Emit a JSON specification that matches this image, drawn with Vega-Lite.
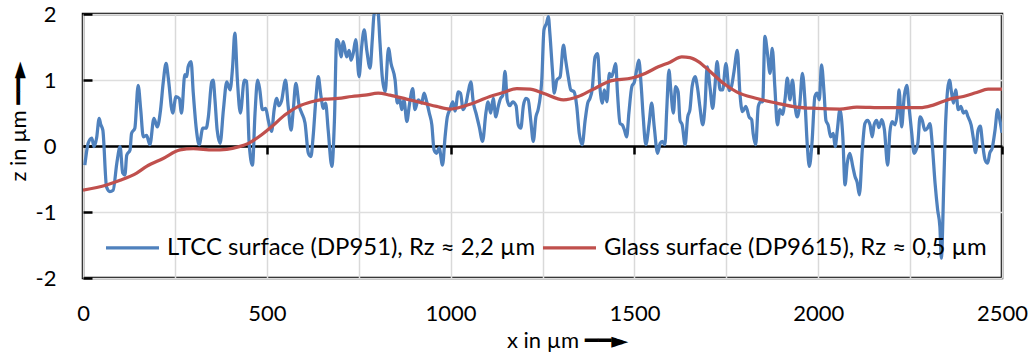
{
  "$schema": "https://vega.github.io/schema/vega-lite/v6.json",
  "width": 919,
  "height": 264,
  "autosize": "none",
  "padding": {"left": 83, "top": 14, "right": 30, "bottom": 82},
  "config": {
    "view": {"stroke": "black", "strokeWidth": 2.5},
    "font": "Lato",
    "axis": {"labelColor": "black", "titleColor": "black", "titleFontWeight": "normal", "labelFont": "Lato", "titleFont": "Lato, DejaVu Sans", "labelFlush": false}
  },
  "datasets": {
    "ltcc": [
      {"x":5,"z":-0.29},{"x":14,"z":0.04},{"x":24,"z":0.12},{"x":30,"z":-0.01},{"x":37,"z":0.12},{"x":44,"z":0.42},{"x":48,"z":0.33},{"x":54,"z":0.24},{"x":64,"z":-0.62},{"x":73,"z":-0.69},{"x":82,"z":-0.67},{"x":92,"z":-0.26},{"x":101,"z":-0.01},{"x":108,"z":-0.41},{"x":114,"z":-0.44},{"x":119,"z":-0.14},{"x":128,"z":-0.06},{"x":132,"z":0.19},{"x":141,"z":0.27},{"x":150,"z":0.92},{"x":157,"z":0.55},{"x":164,"z":0.14},{"x":173,"z":0.16},{"x":182,"z":0.02},{"x":193,"z":0.42},{"x":202,"z":0.29},{"x":211,"z":0.55},{"x":218,"z":0.95},{"x":226,"z":1.25},{"x":232,"z":1.03},{"x":244,"z":0.5},{"x":253,"z":0.75},{"x":262,"z":0.72},{"x":268,"z":0.5},{"x":277,"z":1.08},{"x":282,"z":1.05},{"x":286,"z":1.2},{"x":294,"z":1.28},{"x":300,"z":0.8},{"x":309,"z":0.22},{"x":316,"z":0.02},{"x":326,"z":0.27},{"x":335,"z":0.27},{"x":341,"z":0.44},{"x":350,"z":0.97},{"x":354,"z":1.0},{"x":359,"z":0.7},{"x":365,"z":0.24},{"x":373,"z":0.04},{"x":382,"z":0.55},{"x":391,"z":0.97},{"x":400,"z":0.85},{"x":407,"z":1.2},{"x":413,"z":1.71},{"x":420,"z":1.0},{"x":428,"z":0.5},{"x":439,"z":1.0},{"x":445,"z":0.98},{"x":452,"z":0.04},{"x":461,"z":-0.29},{"x":468,"z":0.5},{"x":475,"z":1.0},{"x":481,"z":0.85},{"x":488,"z":0.55},{"x":497,"z":0.57},{"x":504,"z":0.39},{"x":513,"z":0.22},{"x":520,"z":0.55},{"x":527,"z":0.72},{"x":533,"z":0.61},{"x":540,"z":0.68},{"x":551,"z":1.0},{"x":558,"z":0.61},{"x":566,"z":0.24},{"x":572,"z":0.55},{"x":579,"z":0.95},{"x":588,"z":0.61},{"x":595,"z":0.5},{"x":604,"z":0.35},{"x":613,"z":-0.11},{"x":620,"z":-0.16},{"x":626,"z":0.14},{"x":634,"z":0.75},{"x":640,"z":1.05},{"x":647,"z":0.77},{"x":654,"z":0.57},{"x":660,"z":0.65},{"x":667,"z":0.24},{"x":677,"z":-0.31},{"x":684,"z":0.39},{"x":690,"z":1.61},{"x":696,"z":1.56},{"x":702,"z":1.35},{"x":708,"z":1.58},{"x":717,"z":1.35},{"x":724,"z":1.45},{"x":729,"z":1.3},{"x":735,"z":1.4},{"x":742,"z":1.61},{"x":751,"z":1.05},{"x":758,"z":1.5},{"x":765,"z":1.76},{"x":772,"z":1.45},{"x":781,"z":1.18},{"x":787,"z":1.61},{"x":792,"z":2.0},{"x":802,"z":2.05},{"x":808,"z":1.56},{"x":814,"z":1.05},{"x":822,"z":0.82},{"x":831,"z":1.48},{"x":838,"z":1.25},{"x":849,"z":1.0},{"x":855,"z":0.65},{"x":861,"z":0.72},{"x":867,"z":0.55},{"x":873,"z":0.7},{"x":881,"z":0.37},{"x":888,"z":0.63},{"x":897,"z":0.87},{"x":903,"z":0.55},{"x":912,"z":0.7},{"x":921,"z":0.65},{"x":928,"z":0.8},{"x":935,"z":0.67},{"x":942,"z":0.5},{"x":949,"z":0.32},{"x":955,"z":-0.06},{"x":962,"z":-0.11},{"x":969,"z":-0.03},{"x":978,"z":-0.29},{"x":985,"z":0.14},{"x":991,"z":0.44},{"x":998,"z":0.55},{"x":1006,"z":0.67},{"x":1012,"z":0.53},{"x":1021,"z":0.82},{"x":1027,"z":0.8},{"x":1034,"z":0.55},{"x":1042,"z":0.65},{"x":1048,"z":0.82},{"x":1055,"z":0.97},{"x":1062,"z":0.65},{"x":1069,"z":0.5},{"x":1078,"z":0.29},{"x":1087,"z":0.07},{"x":1096,"z":0.5},{"x":1102,"z":0.67},{"x":1109,"z":0.5},{"x":1116,"z":0.72},{"x":1123,"z":0.44},{"x":1130,"z":0.61},{"x":1136,"z":0.72},{"x":1142,"z":0.77},{"x":1148,"z":1.13},{"x":1154,"z":0.7},{"x":1161,"z":0.61},{"x":1169,"z":0.67},{"x":1178,"z":0.61},{"x":1184,"z":0.32},{"x":1191,"z":0.27},{"x":1198,"z":0.61},{"x":1205,"z":0.72},{"x":1211,"z":0.7},{"x":1218,"z":0.39},{"x":1225,"z":0.07},{"x":1232,"z":0.44},{"x":1238,"z":0.55},{"x":1248,"z":1.0},{"x":1254,"z":1.76},{"x":1261,"z":1.86},{"x":1266,"z":1.96},{"x":1270,"z":1.71},{"x":1277,"z":1.15},{"x":1282,"z":0.8},{"x":1289,"z":1.0},{"x":1298,"z":1.05},{"x":1307,"z":1.53},{"x":1313,"z":1.3},{"x":1320,"z":1.05},{"x":1327,"z":0.85},{"x":1336,"z":0.82},{"x":1343,"z":0.61},{"x":1350,"z":0.19},{"x":1358,"z":0.02},{"x":1366,"z":0.39},{"x":1373,"z":0.65},{"x":1379,"z":0.72},{"x":1385,"z":0.85},{"x":1393,"z":1.35},{"x":1400,"z":1.4},{"x":1406,"z":0.9},{"x":1413,"z":0.65},{"x":1418,"z":0.85},{"x":1425,"z":0.67},{"x":1432,"z":1.1},{"x":1438,"z":1.05},{"x":1443,"z":1.13},{"x":1449,"z":1.25},{"x":1454,"z":0.8},{"x":1461,"z":0.34},{"x":1467,"z":0.32},{"x":1473,"z":0.24},{"x":1479,"z":0.14},{"x":1485,"z":0.5},{"x":1493,"z":0.9},{"x":1500,"z":0.97},{"x":1506,"z":1.15},{"x":1512,"z":1.3},{"x":1518,"z":0.95},{"x":1524,"z":0.44},{"x":1531,"z":0.02},{"x":1540,"z":0.34},{"x":1547,"z":0.65},{"x":1554,"z":0.29},{"x":1563,"z":-0.11},{"x":1570,"z":0.04},{"x":1576,"z":0.07},{"x":1583,"z":0.02},{"x":1588,"z":0.55},{"x":1594,"z":1.15},{"x":1599,"z":0.85},{"x":1606,"z":0.5},{"x":1612,"z":0.9},{"x":1619,"z":0.82},{"x":1624,"z":0.39},{"x":1630,"z":0.32},{"x":1638,"z":0.02},{"x":1645,"z":0.44},{"x":1651,"z":0.55},{"x":1657,"z":0.9},{"x":1665,"z":1.05},{"x":1672,"z":0.87},{"x":1678,"z":0.6},{"x":1686,"z":0.32},{"x":1692,"z":0.6},{"x":1698,"z":1.2},{"x":1706,"z":0.87},{"x":1713,"z":0.57},{"x":1719,"z":0.9},{"x":1725,"z":1.28},{"x":1733,"z":0.85},{"x":1740,"z":0.85},{"x":1749,"z":1.25},{"x":1758,"z":0.84},{"x":1764,"z":0.9},{"x":1771,"z":1.13},{"x":1780,"z":1.45},{"x":1787,"z":0.8},{"x":1794,"z":0.52},{"x":1803,"z":0.6},{"x":1812,"z":0.44},{"x":1819,"z":0.4},{"x":1823,"z":0.19},{"x":1830,"z":0.02},{"x":1837,"z":0.6},{"x":1843,"z":0.67},{"x":1849,"z":0.67},{"x":1855,"z":1.66},{"x":1862,"z":1.4},{"x":1869,"z":1.1},{"x":1875,"z":1.48},{"x":1882,"z":0.9},{"x":1889,"z":0.32},{"x":1896,"z":0.55},{"x":1903,"z":0.48},{"x":1910,"z":0.72},{"x":1916,"z":1.03},{"x":1923,"z":0.7},{"x":1930,"z":1.0},{"x":1937,"z":0.6},{"x":1943,"z":0.44},{"x":1950,"z":0.64},{"x":1957,"z":1.1},{"x":1964,"z":0.68},{"x":1970,"z":0.04},{"x":1976,"z":-0.31},{"x":1983,"z":0.04},{"x":1991,"z":0.75},{"x":1997,"z":0.8},{"x":2003,"z":0.7},{"x":2009,"z":1.23},{"x":2016,"z":0.8},{"x":2021,"z":0.39},{"x":2027,"z":0.32},{"x":2034,"z":0.14},{"x":2041,"z":0.19},{"x":2046,"z":-0.01},{"x":2052,"z":0.24},{"x":2059,"z":0.55},{"x":2067,"z":0.14},{"x":2073,"z":-0.59},{"x":2079,"z":-0.26},{"x":2086,"z":-0.11},{"x":2094,"z":-0.31},{"x":2100,"z":-0.46},{"x":2106,"z":-0.55},{"x":2112,"z":-0.74},{"x":2120,"z":-0.06},{"x":2127,"z":0.34},{"x":2134,"z":0.39},{"x":2141,"z":0.32},{"x":2147,"z":0.14},{"x":2152,"z":0.32},{"x":2159,"z":0.39},{"x":2165,"z":0.28},{"x":2173,"z":0.4},{"x":2180,"z":0.25},{"x":2189,"z":-0.29},{"x":2195,"z":0.21},{"x":2201,"z":0.37},{"x":2209,"z":0.32},{"x":2216,"z":0.55},{"x":2220,"z":0.85},{"x":2227,"z":0.29},{"x":2234,"z":0.75},{"x":2241,"z":0.92},{"x":2247,"z":0.6},{"x":2254,"z":0.22},{"x":2261,"z":-0.11},{"x":2271,"z":0.04},{"x":2277,"z":0.44},{"x":2283,"z":0.39},{"x":2290,"z":0.24},{"x":2297,"z":0.27},{"x":2304,"z":0.34},{"x":2310,"z":0.04},{"x":2318,"z":-0.57},{"x":2325,"z":-0.97},{"x":2331,"z":-1.22},{"x":2335,"z":-1.7},{"x":2342,"z":-0.5},{"x":2347,"z":0.4},{"x":2357,"z":1.0},{"x":2363,"z":0.8},{"x":2368,"z":0.65},{"x":2374,"z":0.85},{"x":2381,"z":0.55},{"x":2388,"z":0.6},{"x":2395,"z":0.5},{"x":2402,"z":0.53},{"x":2407,"z":0.45},{"x":2416,"z":0.32},{"x":2422,"z":0.12},{"x":2428,"z":-0.1},{"x":2435,"z":0.24},{"x":2441,"z":0.3},{"x":2447,"z":0.04},{"x":2454,"z":-0.21},{"x":2461,"z":-0.26},{"x":2467,"z":-0.1},{"x":2473,"z":-0.04},{"x":2481,"z":0.24},{"x":2488,"z":0.55},{"x":2494,"z":0.4},{"x":2500,"z":0.2}
    ],
    "glass": [
      {"x":0,"z":-0.67},{"x":64,"z":-0.59},{"x":101,"z":-0.52},{"x":146,"z":-0.41},{"x":173,"z":-0.31},{"x":218,"z":-0.19},{"x":264,"z":-0.06},{"x":300,"z":-0.04},{"x":354,"z":-0.06},{"x":391,"z":-0.05},{"x":425,"z":-0.01},{"x":450,"z":0.04},{"x":486,"z":0.17},{"x":513,"z":0.29},{"x":549,"z":0.47},{"x":586,"z":0.6},{"x":622,"z":0.67},{"x":658,"z":0.71},{"x":694,"z":0.72},{"x":731,"z":0.75},{"x":767,"z":0.77},{"x":803,"z":0.8},{"x":835,"z":0.77},{"x":880,"z":0.71},{"x":926,"z":0.65},{"x":962,"z":0.6},{"x":998,"z":0.56},{"x":1034,"z":0.6},{"x":1071,"z":0.67},{"x":1107,"z":0.75},{"x":1143,"z":0.81},{"x":1180,"z":0.87},{"x":1216,"z":0.86},{"x":1252,"z":0.8},{"x":1307,"z":0.7},{"x":1347,"z":0.75},{"x":1384,"z":0.85},{"x":1438,"z":0.99},{"x":1493,"z":1.03},{"x":1529,"z":1.1},{"x":1565,"z":1.2},{"x":1597,"z":1.27},{"x":1629,"z":1.35},{"x":1651,"z":1.34},{"x":1674,"z":1.28},{"x":1706,"z":1.13},{"x":1742,"z":0.95},{"x":1778,"z":0.82},{"x":1833,"z":0.72},{"x":1887,"z":0.65},{"x":1941,"z":0.59},{"x":1996,"z":0.57},{"x":2059,"z":0.56},{"x":2105,"z":0.59},{"x":2177,"z":0.58},{"x":2277,"z":0.58},{"x":2313,"z":0.62},{"x":2358,"z":0.71},{"x":2395,"z":0.75},{"x":2431,"z":0.81},{"x":2462,"z":0.86},{"x":2500,"z":0.86}
    ]
  },
  "layer": [
    {
      "data": {"name": "ltcc"},
      "mark": {"type": "line", "strokeWidth": 3.25, "clip": true, "interpolate": "monotone"},
      "encoding": {
        "x": {"field": "x", "type": "quantitative", "scale": {"domain": [0, 2500], "nice": false, "zero": false},
          "axis": {"orient": "bottom", "values": [0,250,500,750,1000,1250,1500,1750,2000,2250,2500], "grid": true, "gridColor": "#d9d9d9", "gridWidth": 1.5, "labels": false, "ticks": false, "domain": false, "title": null}},
        "y": {"field": "z", "type": "quantitative", "scale": {"domain": [-2, 2], "nice": false},
          "axis": {"values": [-2,-1.5,-1,-0.5,0,0.5,1,1.5,2], "grid": true, "gridColor": "#dedede", "gridWidth": 1.5, "domain": false,
            "tickColor": {"condition": {"test": "datum.value % 1 === 0", "value": "black"}, "value": "transparent"},
            "tickSize": -9, "tickWidth": 2.5,
            "labelExpr": "datum.value % 1 === 0 ? '' + datum.value : ''",
            "labelFontSize": 22, "labelPadding": 36,
            "title": "z in µm ━━►", "titleFontSize": 22, "titleAngle": -90, "titleX": -65, "titleY": 107, "titleAlign": "center", "titleBaseline": "middle"}},
        "color": {"datum": "LTCC surface (DP951), Rz ≈ 2,2 µm",
          "scale": {"domain": ["LTCC surface (DP951), Rz ≈ 2,2 µm", "Glass surface (DP9615), Rz ≈ 0,5 µm"], "range": ["#4f81bd", "#c0504d"]},
          "legend": {"orient": "none", "legendX": 21, "legendY": 205, "direction": "horizontal", "title": null, "symbolType": "stroke", "symbolSize": 2809, "symbolStrokeWidth": 3.25, "labelFontSize": 23.9, "labelFont": "Lato", "labelColor": "black", "labelOffset": 6, "columnPadding": 0, "padding": 0, "labelLimit": 600}}
      }
    },
    {
      "data": {"name": "glass"},
      "mark": {"type": "line", "strokeWidth": 3.25, "clip": true, "interpolate": "monotone"},
      "encoding": {
        "x": {"field": "x", "type": "quantitative",
          "axis": {"orient": "bottom", "offset": -132, "values": [0,500,1000,1500,2000,2500], "format": "d", "grid": false, "domain": true, "domainColor": "black", "domainWidth": 2.5,
            "tickColor": {"condition": {"test": "datum.value > 0", "value": "black"}, "value": "transparent"},
            "tickSize": 8, "tickWidth": 2.5, "labelFontSize": 22, "labelPadding": 149, "labelBaseline": "top",
            "title": "x in µm ━━►", "titleFontSize": 22, "titleX": 484, "titleY": 194, "titleAlign": "center", "titleBaseline": "middle"}},
        "y": {"field": "z", "type": "quantitative"},
        "color": {"datum": "Glass surface (DP9615), Rz ≈ 0,5 µm"}
      }
    }
  ],
  "resolve": {"axis": {"x": "independent"}}
}
